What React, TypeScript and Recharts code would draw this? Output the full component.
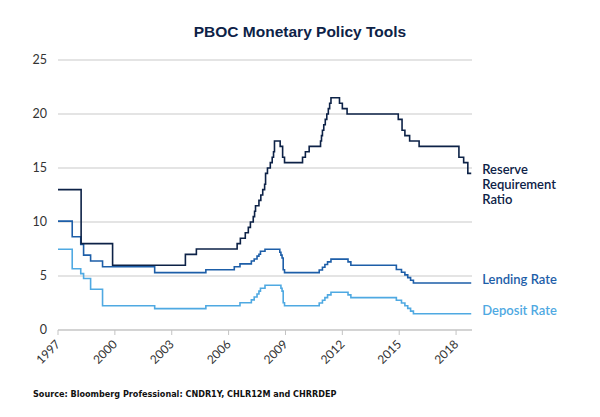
import React from 'react';
import { LineChart, Line, XAxis, YAxis, CartesianGrid } from 'recharts';

// Reserve requirement ratio (large banks), % — decimal year of each change
const rrrDates = [1997.0, 1998.22, 1999.88, 2003.72, 2004.3, 2006.45, 2006.62, 2006.88, 2007.04, 2007.15, 2007.3, 2007.37, 2007.42, 2007.6, 2007.7, 2007.8, 2007.9, 2007.95, 2008.05, 2008.2, 2008.3, 2008.37, 2008.42, 2008.72, 2008.85, 2008.95, 2009.9, 2010.05, 2010.25, 2010.85, 2010.9, 2010.95, 2011.02, 2011.1, 2011.18, 2011.26, 2011.33, 2011.4, 2011.85, 2012.0, 2012.25, 2014.95, 2015.15, 2015.3, 2015.55, 2015.75, 2016.05, 2018.15, 2018.4, 2018.62, 2018.8];
const rrrValues = [13, 8, 6, 7, 7.5, 8, 8.5, 9, 9.5, 10, 10.5, 11, 11.5, 12, 12.5, 13, 13.5, 14.5, 15, 15.5, 16, 16.5, 17.5, 17, 16, 15.5, 16, 16.5, 17, 17.5, 18, 18.5, 19, 19.5, 20, 20.5, 21, 21.5, 21, 20.5, 20, 19.5, 18.5, 18, 17.5, 17.5, 17, 16, 15.5, 14.5, 14.5];

// One-year lending rate, %
const lendDates = [1997.0, 1997.75, 1998.2, 1998.35, 1998.72, 1999.35, 2002.1, 2004.8, 2006.3, 2006.6, 2007.2, 2007.35, 2007.5, 2007.6, 2007.68, 2007.92, 2008.7, 2008.76, 2008.82, 2008.88, 2008.95, 2010.78, 2010.95, 2011.08, 2011.22, 2011.4, 2012.3, 2012.45, 2014.85, 2015.12, 2015.3, 2015.45, 2015.6, 2015.75, 2018.8];
const lendValues = [10.08, 8.64, 7.92, 6.93, 6.39, 5.85, 5.31, 5.58, 5.85, 6.12, 6.39, 6.57, 6.84, 7.02, 7.29, 7.47, 7.2, 6.93, 6.66, 5.58, 5.31, 5.56, 5.81, 6.06, 6.31, 6.56, 6.31, 6.0, 5.6, 5.35, 5.1, 4.85, 4.6, 4.35, 4.35];

// One-year deposit rate, %
const depDates = [1997.0, 1997.75, 1998.2, 1998.35, 1998.72, 1999.35, 2002.1, 2004.8, 2006.6, 2007.2, 2007.35, 2007.5, 2007.6, 2007.68, 2007.92, 2008.76, 2008.82, 2008.88, 2008.95, 2010.78, 2010.95, 2011.08, 2011.22, 2011.4, 2012.3, 2012.45, 2014.85, 2015.12, 2015.3, 2015.45, 2015.6, 2015.75, 2018.8];
const depValues = [7.47, 5.67, 5.22, 4.77, 3.78, 2.25, 1.98, 2.25, 2.52, 2.79, 3.06, 3.33, 3.6, 3.87, 4.14, 3.87, 3.6, 2.52, 2.25, 2.5, 2.75, 3.0, 3.25, 3.5, 3.25, 3.0, 2.75, 2.5, 2.25, 2.0, 1.75, 1.5, 1.5];

const yearTicks = [1997, 2000, 2003, 2006, 2009, 2012, 2015, 2018];
const valueTicks = [0, 5, 10, 15, 20, 25];

const NAVY = '#0d2247';
const MID = '#1d5ea8';
const LIGHT = '#4fa9e2';
const FONT = 'Lato, "Open Sans", sans-serif';

// merge the three step series onto one date column; gaps are bridged with connectNulls
const allDates = Array.from(new Set([...rrrDates, ...lendDates, ...depDates])).sort((a, b) => a - b);
const rows = allDates.map((d) => {
  const i = rrrDates.indexOf(d);
  const j = lendDates.indexOf(d);
  const k = depDates.indexOf(d);
  return {
    date: d,
    rrr: i >= 0 ? rrrValues[i] : null,
    lending: j >= 0 ? lendValues[j] : null,
    deposit: k >= 0 ? depValues[k] : null,
  };
});
const last = rows.length - 1;

const YearTick = (props: any) => {
  const { x, y, payload } = props;
  const ax = x + 3;
  const ay = y + 8;
  return (
    <text x={ax} y={ay} transform={`rotate(-45 ${ax} ${ay})`} textAnchor="end" fontSize={12} fill="#333" fontFamily={FONT}>
      {payload.value}
    </text>
  );
};

const endLabel = (lines: string[], color: string) => (props: any) => {
  const { x, y, index } = props;
  if (index !== last) return null;
  return (
    <text x={x + 11} y={y + 1} fill={color} fontSize={13} fontWeight={600} fontFamily={FONT}>
      {lines.map((t, n) => (
        <tspan key={t} x={x + 11} dy={n === 0 ? 0 : 15}>{t}</tspan>
      ))}
    </text>
  );
};

const App: React.FC = () => (
  <div style={{ position: 'absolute', left: 0, top: 0, width: 600, height: 417, background: '#fff' }}>
    <div style={{ position: 'absolute', top: 23, width: 600, textAlign: 'center', fontFamily: '"Liberation Sans", Arial, sans-serif', fontWeight: 700, fontSize: 15.5, color: NAVY }}>
      PBOC Monetary Policy Tools
    </div>
    <LineChart width={600} height={417} data={rows} margin={{ top: 60, right: 128, left: 0, bottom: 37 }}>
      <CartesianGrid vertical={false} stroke="#c9c9c9" />
      <XAxis
        dataKey="date"
        type="number"
        domain={[1997, 2018.84]}
        ticks={yearTicks}
        allowDataOverflow
        height={50}
        tickSize={5}
        stroke="#c3c3c3"
        tick={<YearTick />}
        interval={0}
      />
      <YAxis
        domain={[0, 25]}
        ticks={valueTicks}
        width={58}
        axisLine={false}
        tickLine={false}
        tickSize={0}
        tickMargin={11}
        tick={{ fontSize: 12.5, fill: '#333', fontFamily: FONT }}
      />
      <Line type="stepAfter" dataKey="deposit" stroke={LIGHT} strokeWidth={1.6} dot={false} connectNulls isAnimationActive={false}
        label={endLabel(['Deposit Rate'], LIGHT)} />
      <Line type="stepAfter" dataKey="lending" stroke={MID} strokeWidth={1.6} dot={false} connectNulls isAnimationActive={false}
        label={endLabel(['Lending Rate'], MID)} />
      <Line type="stepAfter" dataKey="rrr" stroke={NAVY} strokeWidth={1.6} dot={false} connectNulls isAnimationActive={false}
        label={endLabel(['Reserve', 'Requirement', 'Ratio'], NAVY)} />
    </LineChart>
    <div style={{ position: 'absolute', left: 33, top: 389, fontFamily: '"Liberation Sans Narrow", "DejaVu Sans Condensed", sans-serif', fontWeight: 700, fontSize: 9, color: '#111' }}>
      Source: Bloomberg Professional: CNDR1Y, CHLR12M and CHRRDEP
    </div>
  </div>
);

export default App;
